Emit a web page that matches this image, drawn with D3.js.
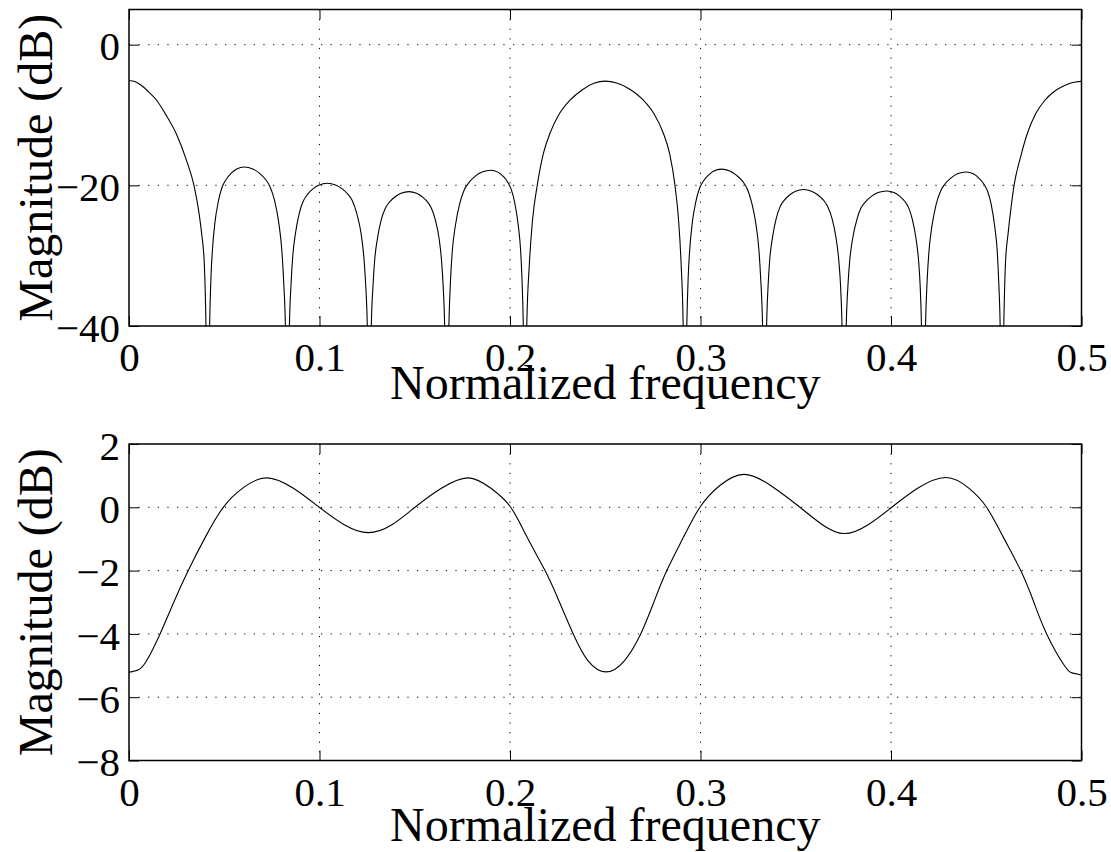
<!DOCTYPE html>
<html>
<head>
<meta charset="utf-8">
<script src="https://cdn.jsdelivr.net/npm/d3@7/dist/d3.min.js"></script>
<style>
  html, body { margin: 0; padding: 0; background: #fff; }
  svg { display: block; }
  text { font-family: "Liberation Serif", "Times New Roman", Times, serif; fill: #000; }
</style>
</head>
<body>
<svg id="chart" width="1111" height="852"></svg>
<script>
// ---------------- data ----------------
const xLabel = "Normalized frequency";
const yLabel = "Magnitude (dB)";
const xTicks = [0, 0.1, 0.2, 0.3, 0.4, 0.5];
const topYTicks = [-40, -20, 0];
const bottomYTicks = [-8, -6, -4, -2, 0, 2];
const topYDomain = [-40, 5];
const bottomYDomain = [-8, 2];

// [normalized frequency, magnitude dB]
const topResponse = [
  [0, -5.1], [0.003, -5.25], [0.006, -5.7], [0.011, -6.9], [0.0145, -7.9], [0.019, -9.8],
  [0.0247, -12.6], [0.030, -16.3], [0.0341, -20], [0.0365, -23.5], [0.0381, -26.8], [0.0395, -31],
  [0.0404, -40], [0.0413, -60],
  [0.0423, -40], [0.0430, -33.22], [0.0438, -29.15], [0.0451, -25.31], [0.0470, -22.15], [0.0489, -20.23],
  [0.0509, -19.21], [0.0537, -18.26], [0.0566, -17.67], [0.0604, -17.4], [0.0650, -17.67], [0.0684, -18.26],
  [0.0718, -19.21], [0.0741, -20.23], [0.0764, -22.15], [0.0786, -25.31], [0.0802, -29.15], [0.0811, -33.22],
  [0.0821, -40], [0.0832, -60],
  [0.0842, -40], [0.0851, -33.91], [0.0859, -30.26], [0.0874, -26.8], [0.0894, -23.96], [0.0915, -22.24],
  [0.0936, -21.32], [0.0967, -20.47], [0.0998, -19.94], [0.104, -19.7], [0.1084, -19.94], [0.1118, -20.47],
  [0.1151, -21.32], [0.1173, -22.24], [0.1195, -23.96], [0.1218, -26.8], [0.1233, -30.26], [0.1242, -33.91],
  [0.1251, -40], [0.1262, -60],
  [0.1272, -40], [0.1281, -34.27], [0.1289, -30.83], [0.1304, -27.59], [0.1324, -24.91], [0.1345, -23.29],
  [0.1366, -22.43], [0.1397, -21.63], [0.1428, -21.13], [0.147, -20.9], [0.1509, -21.13], [0.1539, -21.63],
  [0.1569, -22.43], [0.1588, -23.29], [0.1608, -24.91], [0.1628, -27.59], [0.1641, -30.83], [0.1649, -34.27],
  [0.1657, -40], [0.1667, -60],
  [0.1679, -40], [0.1688, -33.35], [0.1697, -29.37], [0.1714, -25.6], [0.1737, -22.5], [0.1760, -20.62],
  [0.1784, -19.62], [0.1818, -18.69], [0.1853, -18.12], [0.190, -17.85], [0.1936, -18.12], [0.1963, -18.69],
  [0.1990, -19.62], [0.2007, -20.62], [0.2025, -22.5], [0.2043, -25.6], [0.2056, -29.37], [0.2063, -33.35],
  [0.2070, -40], [0.2079, -60],
  [0.2088, -40], [0.2102, -31], [0.2118, -25], [0.2143, -20], [0.2175, -15.5], [0.2210, -12.6],
  [0.226, -9.8], [0.2315, -7.9], [0.238, -6.4], [0.244, -5.5], [0.250, -5.18], [0.256, -5.45],
  [0.262, -6.2], [0.270, -7.9], [0.2755, -9.8], [0.2805, -12.6], [0.2838, -15.5], [0.2866, -20],
  [0.2885, -25], [0.2898, -31], [0.2909, -40], [0.2918, -60],
  [0.2928, -40], [0.2935, -33.31], [0.2943, -29.3], [0.2956, -25.51], [0.2975, -22.38], [0.2994, -20.49],
  [0.3013, -19.48], [0.3042, -18.55], [0.3070, -17.97], [0.3108, -17.7], [0.3154, -17.97], [0.3188, -18.55],
  [0.3223, -19.48], [0.3245, -20.49], [0.3268, -22.38], [0.3291, -25.51], [0.3307, -29.3], [0.3316, -33.31],
  [0.3326, -40], [0.3337, -60],
  [0.3347, -40], [0.3355, -34.18], [0.3363, -30.69], [0.3378, -27.39], [0.3398, -24.67], [0.3418, -23.03],
  [0.3439, -22.15], [0.3469, -21.34], [0.3499, -20.83], [0.354, -20.6], [0.3583, -20.83], [0.3615, -21.34],
  [0.3647, -22.15], [0.3668, -23.03], [0.3690, -24.67], [0.3711, -27.39], [0.3726, -30.69], [0.3735, -34.18],
  [0.3743, -40], [0.3754, -60],
  [0.3765, -40], [0.3774, -34.24], [0.3783, -30.78], [0.3799, -27.52], [0.3821, -24.83], [0.3843, -23.2],
  [0.3866, -22.34], [0.3899, -21.53], [0.3932, -21.03], [0.3977, -20.8], [0.4016, -21.03], [0.4045, -21.53],
  [0.4074, -22.34], [0.4093, -23.2], [0.4112, -24.83], [0.4131, -27.52], [0.4145, -30.78], [0.4153, -34.24],
  [0.4160, -40], [0.4170, -60],
  [0.4181, -40], [0.4190, -33.43], [0.4199, -29.49], [0.4215, -25.77], [0.4237, -22.7], [0.4260, -20.84],
  [0.4282, -19.85], [0.4316, -18.93], [0.4349, -18.36], [0.4394, -18.1], [0.4432, -18.36], [0.4460, -18.93],
  [0.4488, -19.85], [0.4507, -20.84], [0.4526, -22.7], [0.4544, -25.77], [0.4558, -29.49], [0.4565, -33.43],
  [0.4573, -40], [0.4582, -60],
  [0.4592, -40], [0.4601, -31], [0.4615, -26.8], [0.4630, -23.2], [0.4646, -20], [0.468, -16],
  [0.4716, -12.6], [0.476, -9.8], [0.4808, -7.9], [0.4855, -6.7], [0.490, -5.95], [0.494, -5.5],
  [0.497, -5.3], [0.5, -5.22]
];

// [normalized frequency, magnitude dB]
const bottomResponse = [
  [0, -5.21], [0.005, -5.13], [0.0093, -4.84], [0.0163, -4.0], [0.0235, -3.0], [0.0311, -2.0], [0.040, -0.95],
  [0.0495, 0], [0.060, 0.62], [0.0723, 0.93], [0.0863, 0.6], [0.0999, 0], [0.113, -0.55],
  [0.1256, -0.80], [0.138, -0.55], [0.1501, 0], [0.164, 0.6], [0.1781, 0.93], [0.190, 0.6],
  [0.2004, 0], [0.209, -0.95], [0.2184, -2.0], [0.226, -3.0], [0.2332, -4.0], [0.241, -4.85],
  [0.2505, -5.2], [0.260, -4.85], [0.2686, -4.0], [0.2755, -3.0], [0.2823, -2.0], [0.291, -0.95],
  [0.2997, 0], [0.310, 0.68], [0.3228, 1.04], [0.337, 0.68], [0.3522, 0], [0.364, -0.55],
  [0.3755, -0.83], [0.388, -0.55], [0.4004, 0], [0.414, 0.6], [0.4289, 0.94], [0.441, 0.6],
  [0.4502, 0], [0.459, -0.95], [0.4681, -2.0], [0.475, -3.0], [0.4817, -4.0], [0.491, -5.0],
  [0.4955, -5.24], [0.5, -5.30]
];

// ---------------- drawing ----------------
const svg = d3.select("#chart");
svg.append("rect").attr("width", 1111).attr("height", 852).attr("fill", "#fff");

const left = 129, right = 1081.5;
const tickFont = 41, labelFont = 48, tickLen = 10;
const fmt = d => String(d).replace("-", "\u2212");

function panel(id, top, bottom, yDomain, yTicks, data, curve, xLabelOffset) {
  const x = d3.scaleLinear().domain([0, 0.5]).range([left, right]);
  const y = d3.scaleLinear().domain(yDomain).range([bottom, top]);
  const g = svg.append("g");

  svg.append("clipPath").attr("id", "clip" + id)
    .append("rect").attr("x", left).attr("y", top)
    .attr("width", right - left).attr("height", bottom - top);

  // grid
  const grid = g.append("g").attr("stroke", "#000").attr("stroke-width", 1)
    .attr("stroke-dasharray", "1.2,8.4");
  grid.selectAll("line.v").data(xTicks.filter(t => t > 0 && t < 0.5)).join("line")
    .attr("x1", d => x(d)).attr("x2", d => x(d)).attr("y1", top).attr("y2", bottom);
  grid.selectAll("line.h").data(yTicks.filter(t => t > yDomain[0] && t < yDomain[1])).join("line")
    .attr("x1", left).attr("x2", right).attr("y1", d => y(d)).attr("y2", d => y(d));

  // curve
  const line = d3.line().x(d => x(d[0])).y(d => y(d[1])).curve(curve);
  g.append("path").datum(data).attr("d", line)
    .attr("fill", "none").attr("stroke", "#000").attr("stroke-width", 1.1)
    .attr("clip-path", "url(#clip" + id + ")");

  // axes
  const ax = g.append("g").attr("transform", `translate(0,${bottom})`)
    .call(d3.axisBottom(x).tickValues(xTicks).tickFormat(fmt)
      .tickSizeInner(-tickLen).tickSizeOuter(0).tickPadding(16));
  const at = g.append("g").attr("transform", `translate(0,${top})`)
    .call(d3.axisTop(x).tickValues(xTicks).tickFormat("")
      .tickSizeInner(-tickLen).tickSizeOuter(0));
  const al = g.append("g").attr("transform", `translate(${left},0)`)
    .call(d3.axisLeft(y).tickValues(yTicks).tickFormat(fmt)
      .tickSizeInner(-tickLen).tickSizeOuter(0).tickPadding(9));
  const ar = g.append("g").attr("transform", `translate(${right},0)`)
    .call(d3.axisRight(y).tickValues(yTicks).tickFormat("")
      .tickSizeInner(-tickLen).tickSizeOuter(0));
  [ax, at, al, ar].forEach(a => {
    a.select(".domain").remove();
    a.selectAll(".tick line").attr("stroke", "#000").attr("stroke-width", 1);
    a.selectAll("text").attr("font-size", tickFont)
      .attr("font-family", "'Liberation Serif', 'Times New Roman', serif").attr("fill", "#000");
  });
  al.selectAll("text").attr("dy", "0.37em");

  // box
  g.append("rect").attr("x", left).attr("y", top)
    .attr("width", right - left).attr("height", bottom - top)
    .attr("fill", "none").attr("stroke", "#000").attr("stroke-width", 1.5);

  // labels
  g.append("text").attr("x", (left + right) / 2).attr("y", bottom + xLabelOffset)
    .attr("text-anchor", "middle").attr("font-size", labelFont).text(xLabel);
  g.append("text")
    .attr("transform", `translate(52,${(top + bottom) / 2}) rotate(-90)`)
    .attr("text-anchor", "middle").attr("font-size", labelFont).text(yLabel);
}

panel("top", 9.5, 326, topYDomain, topYTicks, topResponse, d3.curveMonotoneX, 73);
panel("bottom", 444, 760.5, bottomYDomain, bottomYTicks, bottomResponse, d3.curveNatural, 80);
</script>
</body>
</html>
